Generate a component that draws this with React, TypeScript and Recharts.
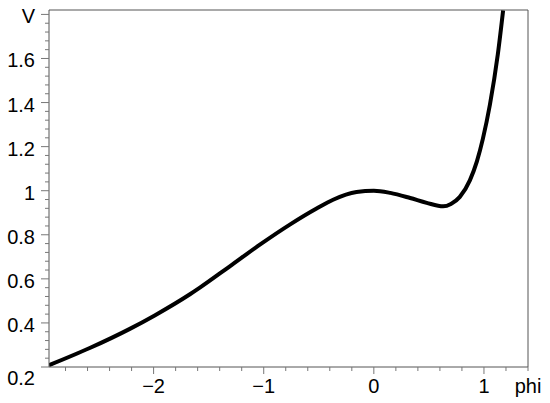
import { Line, LineChart, ReferenceLine, XAxis, YAxis } from 'recharts';

// values
const phiValues = [
  -2.95, -2.58, -2.216, -1.99, -1.67, -1.58, -1.308, -1.035, -0.763, -0.52, -0.37, -0.157, 0,
  0.15, 0.33, 0.48, 0.63, 0.7, 0.781, 0.872, 0.936, 0.99, 1.054, 1.126, 1.174,
];
const vValues = [
  0.208, 0.286, 0.373, 0.434, 0.53, 0.56, 0.657, 0.755, 0.846, 0.919, 0.959, 0.994, 1.0,
  0.99, 0.967, 0.945, 0.929, 0.94, 0.972, 1.047, 1.133, 1.235, 1.39, 1.619, 1.818,
];

const xMajor = [-2, -1, 0, 1];
const xLabels = ['−2', '−1', '0', '1'];
const yMajor = [0.2, 0.4, 0.6, 0.8, 1, 1.2, 1.4, 1.6];
const yLabels = ['0.2', '0.4', '0.6', '0.8', '1', '1.2', '1.4', '1.6'];

const xName = 'phi';
const yName = 'V';
const xNameAt = 1.4;
const yNameAt = 1.8;

const xDomain = [-2.95, 1.4];
const yDomain = [0.2, 1.82];

const data = phiValues.map((p, i) => ({ phi: p, V: vValues[i] }));

// minor tick positions: every 0.2 on x, every 0.04 on y
const xTicks: number[] = [];
for (let k = -14; k <= 7; k++) xTicks.push(Number((k * 0.2).toFixed(2)));
const yTicks: number[] = [];
for (let k = 5; k <= 45; k++) yTicks.push(Number((k * 0.04).toFixed(2)));

const FONT = '"Liberation Sans", Arial, Helvetica, sans-serif';
const AXIS = '#555';
const TICK = '#777';

const near = (a: number, b: number) => Math.abs(a - b) < 1e-6;

function XTick({ x, y, payload }: any) {
  const v = payload.value;
  const i = xMajor.findIndex((m) => near(m, v));
  const label = i >= 0 ? xLabels[i] : near(v, xNameAt) ? xName : '';
  return (
    <g>
      <line x1={x} y1={y} x2={x} y2={y + (i >= 0 ? 7 : 4)} stroke={TICK} />
      {label && (
        <text x={x} y={y + 26} textAnchor="middle" fontSize={20} fontFamily={FONT} fill="#000">
          {label}
        </text>
      )}
    </g>
  );
}

function YTick({ x, y, payload }: any) {
  const v = payload.value;
  const i = yMajor.findIndex((m) => near(m, v));
  const isName = near(v, yNameAt);
  const label = i >= 0 ? yLabels[i] : isName ? yName : '';
  const major = i >= 0 || isName;
  return (
    <g>
      <line x1={x - (major ? 8 : 4)} y1={y} x2={x} y2={y} stroke={TICK} />
      {label && (
        <text x={x - 14} y={y + (i === 0 ? 18 : 9)} textAnchor="end" fontSize={20} fontFamily={FONT} fill="#000">
          {label}
        </text>
      )}
    </g>
  );
}

export default function App() {
  return (
    <div style={{ position: 'absolute', left: 0, top: 0, background: '#fff' }}>
      <LineChart width={550} height={403} data={data} margin={{ top: 10, right: 22, bottom: 0, left: 0 }}>
        <XAxis
          dataKey="phi"
          type="number"
          domain={xDomain}
          allowDataOverflow
          ticks={xTicks}
          interval={0}
          height={36}
          tickSize={0}
          tickMargin={0}
          tickLine={false}
          axisLine={{ stroke: AXIS }}
          tick={XTick}
        />
        <YAxis
          type="number"
          domain={yDomain}
          allowDataOverflow
          ticks={yTicks}
          interval={0}
          width={49}
          tickSize={0}
          tickMargin={0}
          tickLine={false}
          axisLine={{ stroke: AXIS }}
          tick={YTick}
        />
        <ReferenceLine y={yDomain[1]} stroke={AXIS} />
        <ReferenceLine x={xDomain[1]} stroke={AXIS} />
        <Line
          type="monotone"
          dataKey="V"
          stroke="#000"
          strokeWidth={4}
          dot={false}
          activeDot={false}
          isAnimationActive={false}
        />
      </LineChart>
    </div>
  );
}
